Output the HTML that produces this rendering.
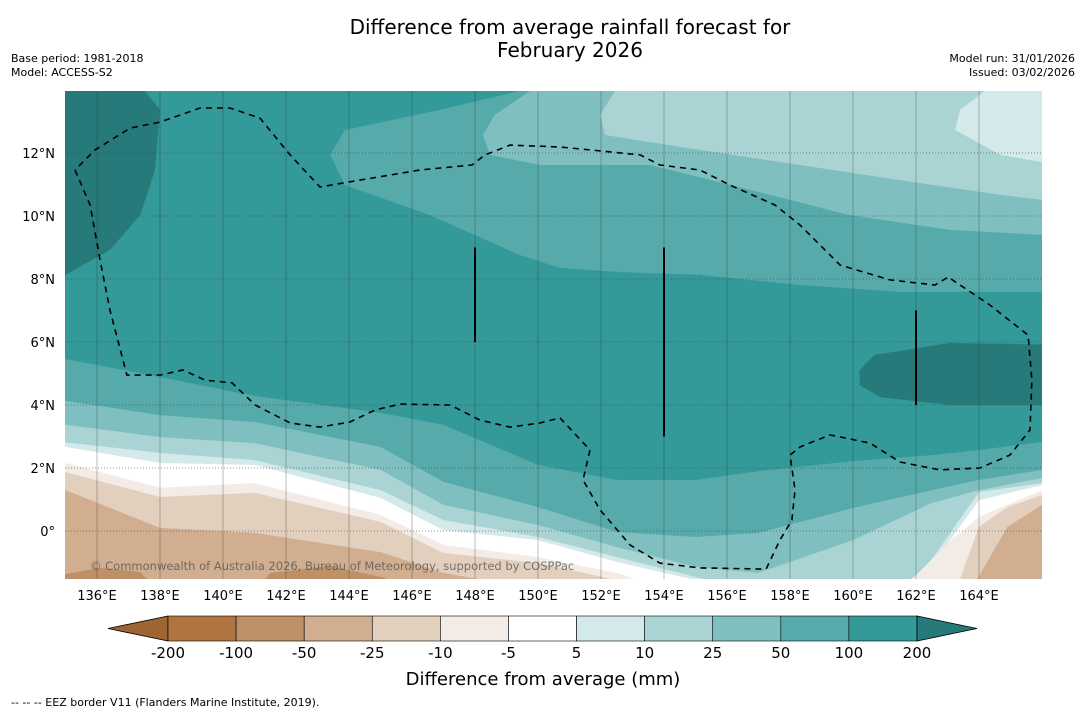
<!DOCTYPE html>
<html><head><meta charset="utf-8"><style>
body{margin:0;background:#fff;}
svg{display:block;font-family:"DejaVu Sans","Liberation Sans",sans-serif;}
</style></head><body>
<svg id="chart" width="1085" height="713" viewBox="0 0 1085 713" xmlns="http://www.w3.org/2000/svg">
<text x="570" y="34" font-size="20" text-anchor="middle" fill="#000">Difference from average rainfall forecast for</text>
<text x="570" y="57" font-size="20" text-anchor="middle" fill="#000">February 2026</text>
<text x="11" y="62" font-size="11" fill="#000">Base period: 1981-2018</text>
<text x="11" y="76" font-size="11" fill="#000">Model: ACCESS-S2</text>
<text x="1075" y="62" font-size="11" fill="#000" text-anchor="end">Model run: 31/01/2026</text>
<text x="1075" y="76" font-size="11" fill="#000" text-anchor="end">Issued: 03/02/2026</text>
<defs><clipPath id="mapclip"><rect x="65" y="91" width="977" height="488"/></clipPath></defs>
<g id="map" clip-path="url(#mapclip)"></g>
<g id="axes"></g>
<g id="cbar"></g>
<text x="543" y="685" font-size="18" text-anchor="middle" fill="#000">Difference from average (mm)</text>
<text x="11" y="706" font-size="11" fill="#000">--  --  -- EEZ border V11 (Flanders Marine Institute, 2019).</text>
</svg>
<script>
// ---- data ----
const lonTicks = [136,138,140,142,144,146,148,150,152,154,156,158,160,162,164];
const latTicks = [0,2,4,6,8,10,12];
const cbarLabels = ["-200","-100","-50","-25","-10","-5","5","10","25","50","100","200"];
const cbarColors = ["#ae7540","#be9068","#d0ae8f","#e2cfbd","#f2ebe6","#ffffff","#d4e9e9","#aad4d4","#80bfbf","#56aaaa","#339999"];
// southern contour boundaries (lon, lat)
const s100Lon=[135,138,141,145,147,150,152.5,155,157,160,162.5,164,166];
const s100Lat=[5.46,4.89,4.29,3.75,3.37,2.10,1.62,1.62,1.90,2.22,2.41,2.57,2.83];
const s50Lon=[135,138,141,145,147,150,152.5,155,157,160,162.5,164,166];
const s50Lat=[4.13,3.68,3.46,2.67,1.56,0.76,-0.03,-0.19,-0.06,0.73,1.30,1.62,1.94];
const s25Lon=[135,138,141,145,147,150,152.5,155,157,160,162.5,164,166];
const s25Lat=[3.37,2.98,2.79,1.94,0.83,0.19,-0.51,-1.14,-1.33,-0.29,0.89,1.30,1.68];
const s10Lon=[135,138,141,145,147,150,152.5,155,157,160,162,162.5,164,166];
const s10Lat=[2.82,2.48,2.25,1.30,0.35,-0.19,-0.83,-1.46,-1.9,-1.9,-1.55,-0.9,1.24,1.52];
const s5Lon=[135,138,141,145,147,150,152.5,155,157,160,162.1,162.5,164,166];
const s5Lat=[2.67,2.16,2.10,1.05,0.03,-0.29,-0.98,-1.56,-2.03,-2.03,-1.6,-1.1,0.98,1.46];
const sm5Lon=[135,138,141,145,147,150,152.5,155,158,161,162,163,164,166];
const sm5Lat=[2.16,1.37,1.52,0.51,-0.44,-0.83,-1.33,-2.19,-2.5,-2.19,-1.4,-0.4,0.45,1.30];
const sm10Lon=[135,138,141,145,147,150,152.5,155,161,163.4,164,164.9,166];
const sm10Lat=[1.87,1.08,1.21,0.29,-0.70,-1.02,-1.56,-2.5,-2.5,-1.52,0.13,0.76,1.14];
const sm25Lon=[135,138,141,145,147,150,155,161,163.9,164.9,166];
const sm25Lat=[1.30,0.10,-0.06,-0.67,-1.33,-1.87,-2.83,-2.83,-1.6,0.13,0.83];
const sm50Lon=[134.84,136.11,137.38,138.17,140.71,141.51,143.40,145.14,145.94,166.25];
const sm50Lat=[-1.40,-1.17,-1.30,-2.19,-2.19,-1.33,-1.11,-1.49,-2.19,-2.19];
// northern contour boundaries
const n100Lon=[149.43,146.89,143.87,143.40,143.87,146.57,149.43,150.70,152.60,155.14,158.32,161.49,166];
const n100Lat=[13.97,13.37,12.73,11.94,10.98,10.03,8.76,8.35,8.22,8.13,7.81,7.59,7.59];
const n50Lon=[149.75,148.63,148.25,148.48,150.06,153.56,156.73,159.90,163.08,166];
const n50Lat=[13.97,13.21,12.57,11.94,11.62,11.62,10.83,10.03,9.56,9.40];
const n25Lon=[152.44,151.97,152.13,155.14,158.32,161.49,164.67,166];
const n25Lat=[13.97,13.21,12.57,12.10,11.62,11.14,10.67,10.51];
const n10Lon=[164.19,163.40,163.24,164.67,166];
const n10Lat=[13.97,13.37,12.73,11.94,11.71];
// high (>200) regions
const dark1Lon=[134,137.52,138,137.84,137.37,136.41,135,134];
const dark1Lat=[15,13.97,13.37,11.46,10.03,8.92,8.13,8.13];
const dark2Lon=[160.21,160.68,163.08,167,167,163.08,160.86,160.21];
const dark2Lat=[5.11,5.59,5.97,5.90,4.0,4.0,4.25,4.63];
// EEZ border
const eezLon=[135.30,135.78,136.10,136.41,136.95,138.00,138.73,139.43,140.29,141.02,142.13,143.08,144.03,144.83,145.62,147.21,148.16,149.11,150.06,150.70,151.65,151.43,151.97,152.92,153.87,155.14,157.24,157.68,158.06,158.16,158.00,158.32,159.27,160.54,161.49,162.76,164.03,164.98,165.62,165.68,165.56,164.35,163.40,163.02,162.60,161.17,159.59,158.32,157.52,156.10,155.14,153.87,153.24,151.65,150.70,149.11,148.32,147.90,146.25,144.35,143.08,142.13,141.17,140.22,139.27,138.00,137.05,135.94,135.30];
const eezLat=[11.46,10.35,8.60,7.02,4.95,4.95,5.11,4.79,4.70,4.00,3.43,3.30,3.46,3.84,4.03,4.00,3.52,3.30,3.43,3.59,2.57,1.62,0.67,-0.44,-1.02,-1.17,-1.21,-0.29,0.35,1.30,2.41,2.67,3.05,2.79,2.19,1.94,2.00,2.41,3.21,4.79,6.22,7.17,7.81,8.06,7.81,7.97,8.44,9.71,10.35,10.98,11.46,11.62,11.94,12.10,12.19,12.25,11.94,11.62,11.46,11.14,10.92,11.94,13.11,13.43,13.43,12.98,12.79,12.10,11.46];
// solid meridian segments
const segLon=[148,154,162];
const segLat0=[6,3,4];
const segLat1=[9,9,7];

// ---- scales ----
const X = lon => 65.5 + (lon - 135) * 31.5;
const Y = lat => 531 - lat * 31.5;
const NS = "http://www.w3.org/2000/svg";
const map = document.getElementById('map');
const axes = document.getElementById('axes');
const cbar = document.getElementById('cbar');
function mk(tag, parent, attrs){const e=document.createElementNS(NS,tag);for(const k in attrs)e.setAttribute(k,attrs[k]);parent.appendChild(e);return e;}
function pts(lons,lats){return lons.map((l,i)=>X(l).toFixed(1)+','+Y(lats[i]).toFixed(1));}

let bg = mk('rect', map, {x:60,y:85,width:990,height:500,fill:'#339999'});



function southBand(lons,lats,color,name){
  const p = [X(133)+','+Y(lats[0]).toFixed(1)].concat(pts(lons,lats));
  p.push(X(168)+','+Y(lats[lats.length-1]).toFixed(1), X(168)+','+Y(-5), X(133)+','+Y(-5));
  const e = mk('polygon', map, {points:p.join(' '), fill:color});
  
  
}
function northBand(lons,lats,color,name){
  const p = [X(lons[0])+','+Y(16)].concat(pts(lons,lats));
  p.push(X(168)+','+Y(lats[lats.length-1]).toFixed(1), X(168)+','+Y(16));
  const e = mk('polygon', map, {points:p.join(' '), fill:color});
  
  
}
northBand(n100Lon,n100Lat,'#56aaaa','north-band-50-100');
northBand(n50Lon,n50Lat,'#80bfbf','north-band-25-50');
northBand(n25Lon,n25Lat,'#aad4d4','north-band-10-25');
northBand(n10Lon,n10Lat,'#d4e9e9','north-band-5-10');
southBand(s100Lon,s100Lat,'#56aaaa','south-band-50-100');
southBand(s50Lon,s50Lat,'#80bfbf','south-band-25-50');
southBand(s25Lon,s25Lat,'#aad4d4','south-band-10-25');
southBand(s10Lon,s10Lat,'#d4e9e9','south-band-5-10');
southBand(s5Lon,s5Lat,'#ffffff','south-band-neutral');
southBand(sm5Lon,sm5Lat,'#f2ebe6','south-band-minus5-10');
southBand(sm10Lon,sm10Lat,'#e2cfbd','south-band-minus10-25');
southBand(sm25Lon,sm25Lat,'#d0ae8f','south-band-minus25-50');
southBand(sm50Lon,sm50Lat,'#be9068','south-band-minus50-100');
let d1 = mk('polygon', map, {points:pts(dark1Lon,dark1Lat).join(' '), fill:'#277a7a'});


let d2 = mk('polygon', map, {points:pts(dark2Lon,dark2Lat).join(' '), fill:'#277a7a'});



// grid
lonTicks.forEach(l=>{
  const g = mk('line', map, {x1:X(l),x2:X(l),y1:91,y2:579,stroke:'rgba(40,40,40,0.3)','stroke-width':1});
  
  
  const t = mk('text', axes, {x:X(l),y:600,'font-size':13,'text-anchor':'middle',fill:'#000'});
  t.textContent = l+'°E';
  
  
});
latTicks.forEach(l=>{
  const g = mk('line', map, {x1:65,x2:1042,y1:Y(l),y2:Y(l),stroke:'rgba(60,60,60,0.55)','stroke-width':1,'stroke-dasharray':'1,2'});
  
  
  const t = mk('text', axes, {x:55,y:Y(l)+5,'font-size':13,'text-anchor':'end',fill:'#000'});
  t.textContent = l===0 ? '0°' : l+'°N';
  
  
});
// EEZ
let eez = mk('polyline', map, {points:pts(eezLon,eezLat).join(' '), fill:'none', stroke:'#000','stroke-width':1.6,'stroke-dasharray':'6,5'});


segLon.forEach((l,i)=>{
  const s = mk('line', map, {x1:X(l),x2:X(l),y1:Y(segLat0[i]),y2:Y(segLat1[i]),stroke:'#000','stroke-width':2});
  
  
});
let cr = mk('text', map, {x:90,y:570,'font-size':11.5,fill:'rgba(80,80,80,0.75)'});
cr.textContent = '© Commonwealth of Australia 2026, Bureau of Meteorology, supported by COSPPac';



// colorbar
const cb0 = 168, cb1 = 917, cbT = 616, cbB = 641;
const bw = (cb1 - cb0) / cbarColors.length;
let tl = mk('polygon', cbar, {points:`108,${(cbT+cbB)/2} ${cb0},${cbT} ${cb0},${cbB}`, fill:'#9c6532', stroke:'#000','stroke-width':0.8});


cbarColors.forEach((c,i)=>{
  const r = mk('rect', cbar, {x:cb0+i*bw,y:cbT,width:bw,height:cbB-cbT,fill:c,stroke:'#000','stroke-width':0.6});
  
  
});
let tr = mk('polygon', cbar, {points:`977,${(cbT+cbB)/2} ${cb1},${cbT} ${cb1},${cbB}`, fill:'#267a7a', stroke:'#000','stroke-width':0.8});


cbarLabels.forEach((s,i)=>{
  const t = mk('text', cbar, {x:cb0+i*bw,y:658,'font-size':15,'text-anchor':'middle',fill:'#000'});
  t.textContent = s;
  
  
});
</script>
</body></html>
